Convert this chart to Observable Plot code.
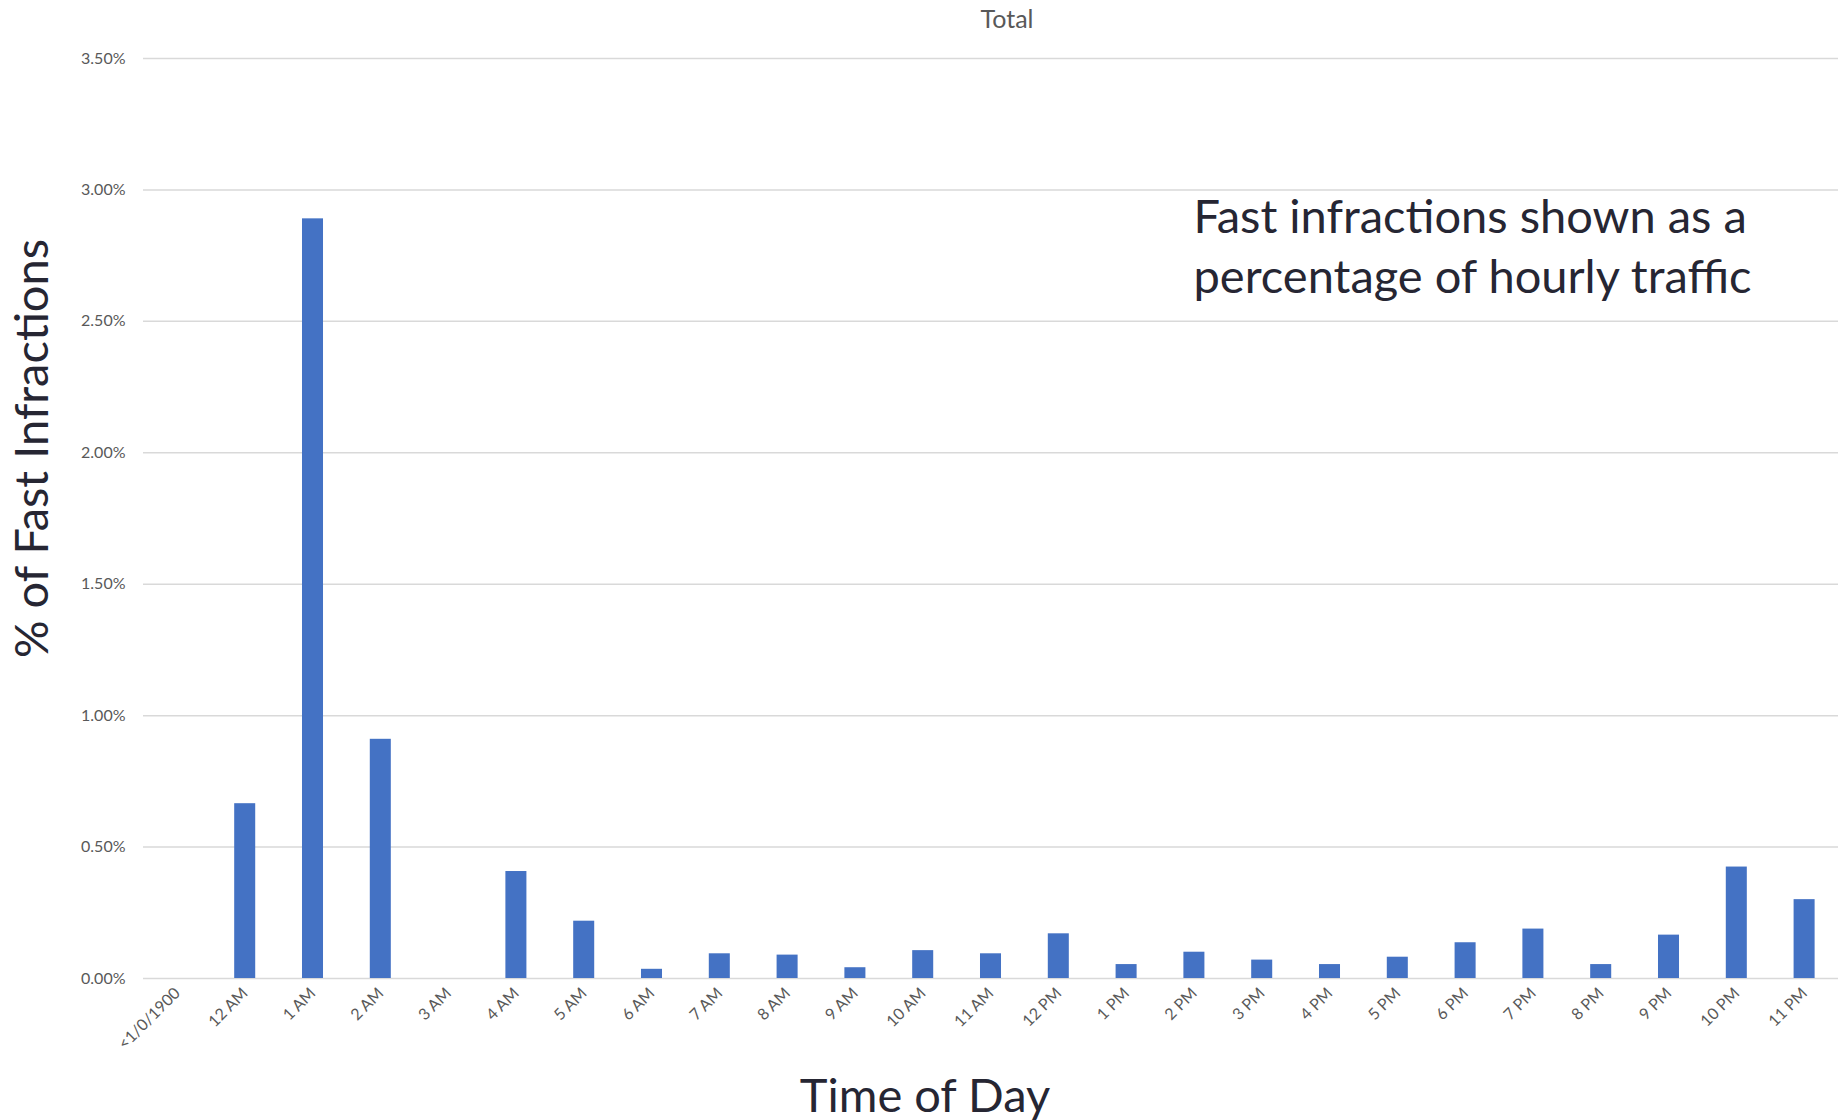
<!DOCTYPE html>
<html><head><meta charset="utf-8">
<script src="https://cdn.jsdelivr.net/npm/d3@7"></script>
<script src="https://cdn.jsdelivr.net/npm/@observablehq/plot@0.6"></script>
<style>html,body{margin:0;padding:0;background:#fff;overflow:hidden}</style>
</head><body><div id="chart"></div>
<script>
const categories = ["<1/0/1900","12 AM","1 AM","2 AM","3 AM","4 AM","5 AM","6 AM","7 AM","8 AM","9 AM","10 AM","11 AM","12 PM","1 PM","2 PM","3 PM","4 PM","5 PM","6 PM","7 PM","8 PM","9 PM","10 PM","11 PM"];
// percent of hourly traffic
const values = [null, 0.665, 2.89, 0.91, 0, 0.407, 0.218, 0.035, 0.094, 0.089, 0.041, 0.106, 0.094, 0.170, 0.053, 0.100, 0.070, 0.053, 0.081, 0.136, 0.188, 0.053, 0.165, 0.424, 0.300];
const yTicks = [0, 0.5, 1.0, 1.5, 2.0, 2.5, 3.0, 3.5];
const chartTitle = "Total";
const yTitle = "% of Fast Infractions";
const xTitle = "Time of Day";
const note = "Fast infractions shown as a\npercentage of hourly traffic";

const data = categories.map((c, i) => ({hour: c, pct: values[i]}));
const font = "Lato, 'Open Sans', sans-serif";

const chart = Plot.plot({
  width: 1838,
  height: 1120,
  marginTop: 58,
  marginBottom: 142,
  marginLeft: 143,
  marginRight: 0,
  style: {fontFamily: font, background: "#fff"},
  x: {domain: categories, paddingInner: 0.69, paddingOuter: 0.345, round: false, label: null},
  y: {domain: [0, 3.5], label: null},
  marks: [
    Plot.gridY(yTicks, {stroke: "#d9d9d9", strokeOpacity: 1, strokeWidth: 1.5}),
    Plot.barY(data.filter(d => d.pct != null), {x: "hour", y: "pct", fill: "#4472C4"}),
    Plot.axisY(yTicks, {tickSize: 0, tickPadding: 18, tickFormat: d => d.toFixed(2) + "%", fontSize: 16, color: "#595959", label: null}),
    Plot.axisX({tickSize: 0, tickPadding: 12, tickRotate: -45, fontSize: 16, color: "#595959", label: null}),
    Plot.text([chartTitle], {frameAnchor: "top", dx: 16, dy: -48, fontSize: 25, fill: "#595959"}),
    Plot.text([yTitle], {frameAnchor: "left", dx: -111, dy: -70, rotate: -90, textAnchor: "middle", fontSize: 47, fill: "#262633"}),
    Plot.text([xTitle], {frameAnchor: "bottom", dx: -66, dy: 133, textAnchor: "middle", fontSize: 47, fill: "#262633"}),
    Plot.text([note], {frameAnchor: "top-left", dx: 1050, dy: 132, textAnchor: "start", lineAnchor: "top", lineHeight: 1.28, fontSize: 47, fill: "#262633"})
  ]
});
document.getElementById("chart").append(chart);
</script>
</body></html>
